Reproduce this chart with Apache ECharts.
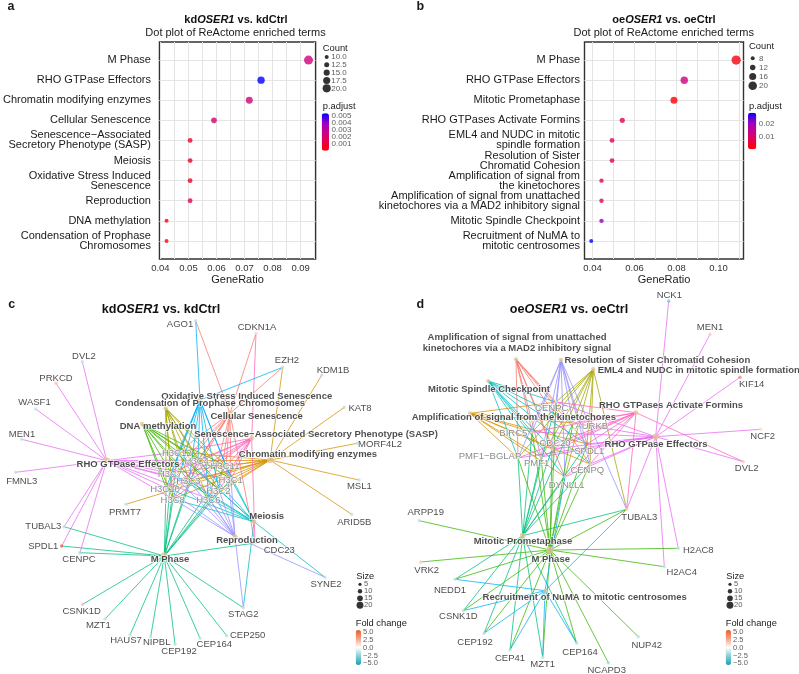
<!DOCTYPE html>
<html><head><meta charset="utf-8">
<script src="https://cdn.jsdelivr.net/npm/echarts@6/dist/echarts.min.js"></script>
<style>html,body{margin:0;padding:0;background:#fff}#chart{width:799px;height:674px}</style>
</head><body><div id="chart"></div>
<script>
const FONT = '"Liberation Sans", Arial, Helvetica, sans-serif';

// ---------------- Panel a : dot plot kdOSER1 vs kdCtrl ----------------
const termsA = ['M Phase', 'RHO GTPase Effectors', 'Chromatin modifying enzymes', 'Cellular Senescence',
  'Senescence\u2212Associated\nSecretory Phenotype (SASP)', 'Meiosis', 'Oxidative Stress Induced\nSenescence',
  'Reproduction', 'DNA methylation', 'Condensation of Prophase\nChromosomes'];
const ratioA = [0.0928, 0.0759, 0.0717, 0.0591, 0.0506, 0.0506, 0.0506, 0.0506, 0.0422, 0.0422];
const countA = [22, 18, 17, 14, 12, 12, 12, 12, 10, 10];
const padjA = [0.0024, 0.0053, 0.0023, 0.0021, 0.0007, 0.0007, 0.0007, 0.0013, 0.0002, 0.0002];
const ratioTicksA = [0.04, 0.05, 0.06, 0.07, 0.08, 0.09];
const ratioGridA = [0.04, 0.045, 0.05, 0.055, 0.06, 0.065, 0.07, 0.075, 0.08, 0.085, 0.09, 0.095];
const countKeysA = [10, 12.5, 15, 17.5, 20];
const padjTicksA = [0.001, 0.002, 0.003, 0.004, 0.005];

// ---------------- Panel b : dot plot oeOSER1 vs oeCtrl ----------------
const termsB = ['M Phase', 'RHO GTPase Effectors', 'Mitotic Prometaphase', 'RHO GTPases Activate Formins',
  'EML4 and NUDC in mitotic\nspindle formation', 'Resolution of Sister\nChromatid Cohesion',
  'Amplification of signal from\nthe kinetochores',
  'Amplification of signal from unattached\nkinetochores via a MAD2 inhibitory signal',
  'Mitotic Spindle Checkpoint', 'Recruitment of NuMA to\nmitotic centrosomes'];
const ratioB = [0.1084, 0.0837, 0.0788, 0.0542, 0.0493, 0.0493, 0.0443, 0.0443, 0.0443, 0.0394];
const countB = [22, 17, 16, 11, 10, 10, 9, 9, 9, 8];
const padjB = [0.0027, 0.0132, 0.0017, 0.0080, 0.0093, 0.0093, 0.0080, 0.0090, 0.0203, 0.0276];
const ratioTicksB = [0.04, 0.06, 0.08, 0.10];
const ratioGridB = [0.04, 0.05, 0.06, 0.07, 0.08, 0.09, 0.10, 0.11];
const countKeysB = [8, 12, 16, 20];
const padjTicksB = [0.01, 0.02];

// ---------------- Panel c : gene-concept network (kd) ----------------
const histC = ['H3C12', 'H3C4', 'H3C11', 'H3C7', 'H3C3', 'H3C1', 'H3C10', 'H3C2', 'H3C8', 'H3C6'];
const catsC = ['M Phase', 'RHO GTPase Effectors', 'Chromatin modifying enzymes', 'Cellular Senescence',
  'Senescence\u2212Associated Secretory Phenotype (SASP)', 'Meiosis', 'Oxidative Stress Induced Senescence',
  'Reproduction', 'DNA methylation', 'Condensation of Prophase Chromosomes'];
const catCountC = [22, 18, 17, 14, 12, 12, 12, 12, 10, 10];
const genesC = ['AGO1', 'CDKN1A', 'DVL2', 'PRKCD', 'EZH2', 'KDM1B', 'WASF1', 'KAT8', 'MEN1', 'MORF4L2', 'FMNL3',
  'MSL1', 'ARID5B', 'PRMT7', 'TUBAL3', 'SPDL1', 'CENPC', 'CDC23', 'SYNE2', 'STAG2', 'CSNK1D', 'MZT1', 'HAUS7',
  'NIPBL', 'CEP192', 'CEP164', 'CEP250'].concat(histC);
const fcC = [-1.5, 1.0, -1.5, 1.8, -1.5, -1.5, -1.5, -1.5, -1.5, -1.5, -1.5, -1.5, -1.5, -1.5, -1.5, 5.0, -2.0,
  -1.5, -1.5, -1.5, 1.8, -1.5, -1.5, -1.5, -1.5, -1.5, -1.5, -1, -1, -1, -1, -1, -1, -1, -1, -1, -1];
const membersC = [
  ['M Phase', histC.concat(['TUBAL3', 'SPDL1', 'CENPC', 'CSNK1D', 'MZT1', 'HAUS7', 'NIPBL', 'CEP192', 'CEP164', 'CEP250', 'STAG2', 'CDC23'])],
  ['RHO GTPase Effectors', histC.concat(['DVL2', 'PRKCD', 'WASF1', 'MEN1', 'FMNL3', 'TUBAL3', 'SPDL1', 'CENPC'])],
  ['Chromatin modifying enzymes', histC.concat(['EZH2', 'KDM1B', 'KAT8', 'MORF4L2', 'MSL1', 'ARID5B', 'PRMT7'])],
  ['Cellular Senescence', histC.concat(['CDKN1A', 'CDC23', 'AGO1', 'EZH2'])],
  ['Senescence\u2212Associated Secretory Phenotype (SASP)', histC.concat(['CDKN1A', 'CDC23'])],
  ['Meiosis', histC.concat(['STAG2', 'SYNE2'])],
  ['Oxidative Stress Induced Senescence', histC.concat(['AGO1', 'EZH2'])],
  ['Reproduction', histC.concat(['STAG2', 'SYNE2'])],
  ['DNA methylation', histC.slice()],
  ['Condensation of Prophase Chromosomes', histC.slice()]
];
const edgeColC = {
  'Cellular Senescence': '#F8766D', 'Chromatin modifying enzymes': '#D89000',
  'Condensation of Prophase Chromosomes': '#A3A500', 'DNA methylation': '#39B600', 'M Phase': '#00BF7D',
  'Meiosis': '#00BFC4', 'Oxidative Stress Induced Senescence': '#00B0F6', 'Reproduction': '#9590FF',
  'RHO GTPase Effectors': '#E76BF3', 'Senescence\u2212Associated Secretory Phenotype (SASP)': '#FF62BC'
};
// layout: node x, node y, label x, label y (reference pixel frame)
const layoutC = {
  'M Phase': [164.3, 556, 170, 559.3],
  'RHO GTPase Effectors': [106.7, 460.7, 128, 464],
  'Chromatin modifying enzymes': [270, 460, 308, 454],
  'Cellular Senescence': [230, 413.3, 256.7, 416.7],
  'Senescence\u2212Associated Secretory Phenotype (SASP)': [251.7, 438.3, 316, 434],
  'Meiosis': [254, 521.7, 266.7, 516.7],
  'Oxidative Stress Induced Senescence': [200, 400, 246.7, 396],
  'Reproduction': [235, 536.7, 247, 540],
  'DNA methylation': [142.3, 424, 158, 426.7],
  'Condensation of Prophase Chromosomes': [165.7, 408.3, 210, 403.7],
  AGO1: [195.7, 320.7, 180, 324.3], CDKN1A: [256, 333.3, 257, 327.3], DVL2: [82.3, 361.7, 84, 356],
  PRKCD: [56, 383.3, 56, 378.3], EZH2: [282.7, 367.3, 287, 360.7], KDM1B: [321.7, 375.3, 333, 370],
  WASF1: [35.7, 409, 34.5, 402.3], KAT8: [344.3, 407.3, 360, 408], MEN1: [21.7, 439.3, 22, 434],
  MORF4L2: [357.3, 443.3, 380, 444], FMNL3: [15.7, 472.3, 21.7, 481], MSL1: [359, 480, 359.3, 486.7],
  ARID5B: [351.7, 514.3, 354.3, 522.3], PRMT7: [126, 504.3, 125, 512.7], TUBAL3: [64, 526.7, 43.3, 526.7],
  SPDL1: [61.7, 546, 43.2, 546], CENPC: [80, 552.7, 79, 559.3], CDC23: [255, 543, 279.3, 550],
  SYNE2: [325, 577.3, 326, 584.3], STAG2: [243.3, 607.7, 243.3, 614.3], CSNK1D: [82.7, 604.3, 81.7, 611],
  MZT1: [105, 619, 98.3, 625], HAUS7: [130, 635, 126, 640], NIPBL: [150.7, 636.7, 156.7, 642.7],
  CEP192: [175, 644.3, 179, 651.7], CEP164: [200, 638.3, 214.3, 644.3], CEP250: [226.7, 635.7, 247.7, 635.7],
  H3C12: [178, 452, 176.7, 453.3], H3C4: [198, 460, 196.7, 461.7], H3C11: [226, 466, 225, 466.7],
  H3C7: [171, 473, 170, 474], H3C3: [189, 481, 188.3, 481.7], H3C1: [231, 479, 230.7, 480],
  H3C10: [166, 488, 165, 489], H3C2: [219, 490, 218.3, 491], H3C8: [173, 499, 172.7, 500.7],
  H3C6: [209, 499, 208.3, 500.7]
};

// ---------------- Panel d : gene-concept network (oe) ----------------
const kinetD = ['CENPC', 'AURKB', 'BIRC5', 'CDC20', 'SPDL1', 'PMF1\u2212BGLAP', 'PMF1', 'CENPQ', 'DYNLL1'];
const catsD = ['M Phase', 'RHO GTPase Effectors', 'Mitotic Prometaphase', 'RHO GTPases Activate Formins',
  'EML4 and NUDC in mitotic spindle formation', 'Resolution of Sister Chromatid Cohesion',
  'Amplification of signal from the kinetochores',
  'Amplification of signal from unattached\nkinetochores via a MAD2 inhibitory signal',
  'Mitotic Spindle Checkpoint', 'Recruitment of NuMA to mitotic centrosomes'];
const catCountD = [22, 17, 16, 11, 10, 10, 9, 9, 9, 8];
const genesD = ['NCK1', 'MEN1', 'KIF14', 'NCF2', 'DVL2'].concat(kinetD).concat(['TUBAL3', 'ARPP19', 'VRK2',
  'NEDD1', 'CSNK1D', 'CEP192', 'CEP41', 'MZT1', 'CEP164', 'NCAPD3', 'NUP42', 'H2AC8', 'H2AC4']);
const fcD = [-3.0, 1.5, 3.5, 1.0, 1.5, -1, 1.5, 1.5, 1.5, 4.5, -1, 1.5, 1.5, -1, 1.5, -1.5, 1.5, -1.5, -1.5,
  -1.5, -1.5, -1.5, -1.5, -2.0, -1.5, -1.5, -1.5];
const membersD = [
  ['Amplification of signal from the kinetochores', kinetD.slice()],
  ['Amplification of signal from unattached\nkinetochores via a MAD2 inhibitory signal', kinetD.slice()],
  ['Mitotic Spindle Checkpoint', kinetD.slice()],
  ['Resolution of Sister Chromatid Cohesion', kinetD.concat(['TUBAL3'])],
  ['EML4 and NUDC in mitotic spindle formation', kinetD.concat(['TUBAL3'])],
  ['RHO GTPases Activate Formins', kinetD.concat(['TUBAL3', 'DVL2'])],
  ['RHO GTPase Effectors', kinetD.concat(['TUBAL3', 'NCK1', 'MEN1', 'KIF14', 'NCF2', 'DVL2', 'H2AC8', 'H2AC4'])],
  ['Mitotic Prometaphase', kinetD.concat(['TUBAL3', 'NEDD1', 'CSNK1D', 'CEP192', 'CEP41', 'MZT1', 'CEP164'])],
  ['M Phase', kinetD.concat(['TUBAL3', 'ARPP19', 'VRK2', 'NEDD1', 'CSNK1D', 'CEP192', 'CEP41', 'MZT1', 'CEP164', 'NCAPD3', 'NUP42', 'H2AC8', 'H2AC4'])],
  ['Recruitment of NuMA to mitotic centrosomes', ['NEDD1', 'CSNK1D', 'CEP192', 'CEP41', 'MZT1', 'CEP164', 'TUBAL3', 'DYNLL1']]
];
const edgeColD = {
  'Amplification of signal from unattached\nkinetochores via a MAD2 inhibitory signal': '#F8766D',
  'Amplification of signal from the kinetochores': '#D89000',
  'EML4 and NUDC in mitotic spindle formation': '#A3A500', 'M Phase': '#39B600',
  'Mitotic Prometaphase': '#00BF7D', 'Mitotic Spindle Checkpoint': '#00BFC4',
  'Recruitment of NuMA to mitotic centrosomes': '#00B0F6', 'Resolution of Sister Chromatid Cohesion': '#9590FF',
  'RHO GTPase Effectors': '#E76BF3', 'RHO GTPases Activate Formins': '#FF62BC'
};
const layoutD = {
  'Amplification of signal from unattached\nkinetochores via a MAD2 inhibitory signal': [516, 359.3, 517, 342.8],
  'Resolution of Sister Chromatid Cohesion': [561, 360, 657.3, 360],
  'EML4 and NUDC in mitotic spindle formation': [593.3, 369.3, 698.7, 370.7],
  'Mitotic Spindle Checkpoint': [488.3, 381, 489, 389],
  'RHO GTPases Activate Formins': [636, 412.7, 671, 405],
  'Amplification of signal from the kinetochores': [470, 413.3, 513.8, 417.3],
  'RHO GTPase Effectors': [655.7, 436.7, 656, 444],
  'Mitotic Prometaphase': [522.7, 535.7, 523, 541.7],
  'M Phase': [550, 550, 550.7, 559.3],
  'Recruitment of NuMA to mitotic centrosomes': [545, 590.7, 584.7, 597.7],
  NCK1: [668.7, 301, 669.3, 295.5], MEN1: [710, 334.3, 710, 327.7], KIF14: [740, 377.3, 751.7, 384],
  NCF2: [760.7, 429.3, 762.7, 436.7], DVL2: [743.3, 461.7, 746.7, 468.3],
  CENPC: [556, 402, 551.7, 408.3], AURKB: [573, 423, 591.7, 426.7], BIRC5: [532, 432, 513.3, 433.3],
  CDC20: [552, 449, 555, 443.3], SPDL1: [587, 444, 589.3, 451], 'PMF1\u2212BGLAP': [518, 458, 490, 456.7],
  PMF1: [541, 457, 536.7, 463.3], CENPQ: [590, 464, 587.3, 470.7], DYNLL1: [565, 477, 566.7, 485],
  TUBAL3: [626.7, 509.3, 639.3, 517.3], ARPP19: [419.3, 520.7, 425.7, 512.3], VRK2: [420.7, 562, 426.7, 570],
  NEDD1: [455, 579.3, 450, 590], CSNK1D: [463.3, 610.7, 458.3, 616.7], CEP192: [484, 633.3, 475, 642.3],
  CEP41: [510, 650, 510, 658.3], MZT1: [542.7, 657.3, 542.7, 664], CEP164: [576.7, 643.3, 580, 652.7],
  NCAPD3: [608.3, 662.7, 606.7, 670], NUP42: [638.3, 636.7, 646.7, 645], H2AC8: [678.3, 548.3, 698.3, 550.7],
  H2AC4: [664.3, 566.7, 681.7, 572.7]
};
const sizeKeys = [5, 10, 15, 20];
const fcTicks = [5, 2.5, 0, -2.5, -5];

// ======================================================================
const RB = ['#ff0000', '#e6004f', '#c8008b', '#9400c8', '#0000ff'];
const FC_COLORS = ['#1aa1b4', '#84cdd4', '#ffffff', '#f5a384', '#ee5a2e'];
const grids = [], xAxes = [], yAxes = [], series = [], visualMaps = [], graphics = [];
function addGrid(g, xa, ya) {
  grids.push(g); const gi = grids.length - 1;
  xa.gridIndex = gi; ya.gridIndex = gi; xAxes.push(xa); yAxes.push(ya); return gi;
}
function hiddenX(min, max) { return { type: 'value', min: min, max: max, show: false }; }
function fmtNum(v) { return (v < 0 ? '\u2212' : '') + Math.abs(v).toFixed(1); }
// key labels of a legend: placed next to the legend's own scale through an invisible scatter
function keyLabels(gi, xPos, values, fmt, size, dx) {
  series.push({ type: 'scatter', xAxisIndex: gi, yAxisIndex: gi, clip: false, silent: true, symbolSize: 0, z: 6,
    data: values.map(v => [xPos, v]),
    label: { show: true, position: 'inside', offset: [dx, 0], align: 'left', verticalAlign: 'middle',
      formatter: p => fmt(p.value[1]), fontSize: size, color: '#333', fontFamily: FONT } });
}

function dotPlot(o) {
  const idx = o.terms.map((t, i) => i);
  const gi = addGrid({ left: o.left, top: 42, width: o.width, height: 217, show: true, borderColor: '#333', borderWidth: 1.4, backgroundColor: '#fff' },
    { type: 'value', min: o.xmin, max: o.xmax, name: 'GeneRatio', nameLocation: 'middle', nameGap: 15,
      nameTextStyle: { fontSize: 11, color: '#1a1a1a', fontFamily: FONT, verticalAlign: 'top' },
      axisLine: { show: false }, axisTick: { show: false, customValues: o.gridX },
      axisLabel: { customValues: o.ticksX, formatter: v => v.toFixed(2), fontSize: 9.5, color: '#333', margin: 4.5, fontFamily: FONT, showMinLabel: true, showMaxLabel: true },
      splitLine: { show: true, lineStyle: { color: '#e4e4e4', width: 1 } } },
    { type: 'value', min: -0.9, max: 9.9, inverse: true, axisLine: { show: false },
      axisTick: { show: false, customValues: idx },
      axisLabel: { customValues: idx, formatter: v => o.terms[Math.round(v)], fontSize: 11, lineHeight: 10, color: '#1a1a1a', margin: o.margin, fontFamily: FONT, align: 'right', showMinLabel: true, showMaxLabel: true },
      splitLine: { show: true, lineStyle: { color: '#e4e4e4', width: 1 } } });
  const si = series.length;
  series.push({ type: 'scatter', xAxisIndex: gi, yAxisIndex: gi, clip: false, z: 3, silent: true, symbol: 'circle',
    data: o.terms.map((t, i) => [o.ratio[i], i, o.count[i], o.padj[i]]) });
  // count legend
  const lg = addGrid({ left: o.cntX - 3, top: o.cntTop, width: 6, height: o.cntH },
    hiddenX(-1, 1),
    { type: 'value', min: o.cntKeys[0], max: o.cntKeys[o.cntKeys.length - 1], inverse: true, show: false });
  const li = series.length;
  series.push({ type: 'scatter', xAxisIndex: lg, yAxisIndex: lg, clip: false, silent: true, itemStyle: { color: '#000' },
    data: o.cntKeys.map(k => [0, k, k]) });
  keyLabels(lg, 0, o.cntKeys, o.cntFmt, 8, o.cntDx);
  visualMaps.push({ type: 'continuous', show: false, seriesIndex: [si, li], dimension: 2, min: o.sizeMin, max: o.sizeMax,
    inRange: { symbolSize: o.sizeRange } });
  // colour bar
  visualMaps.push({ type: 'continuous', show: true, seriesIndex: [si], dimension: 3, min: o.pmin, max: o.pmax,
    inRange: { color: RB }, calculable: false, orient: 'vertical', left: o.barX, top: o.barY,
    itemWidth: o.barW, itemHeight: o.barH, padding: 0, hoverLink: false });
  const cb = addGrid({ left: o.barX, top: o.barY, width: o.barW, height: o.barH },
    hiddenX(0, 1),
    { type: 'value', min: o.pmin, max: o.pmax, position: 'right', z: 10, axisLine: { show: false }, splitLine: { show: false },
      axisTick: { show: true, inside: true, length: 1.6, lineStyle: { color: '#fff', width: 1 }, customValues: o.pTicks },
      axisLabel: { show: false } });
  keyLabels(cb, 1, o.pTicks, o.pFmt, 8, 2.5);
  graphics.push(txt(o.barX + 1, o.cntTitleY, 'Count', 9.4), txt(o.barX + 1, o.pTitleY, 'p.adjust', 9.4));
}

function txt(x, y, text, size, weight, align) {
  return { type: 'text', x: x, y: y, silent: true,
    style: { text: text, fontFamily: FONT, fontSize: size, fontWeight: weight || 'normal', fill: '#1a1a1a',
      align: align || 'left', verticalAlign: 'middle' } };
}
function richTitle(x, y, pre, ital, post, size) {
  return { type: 'text', x: x, y: y, silent: true,
    style: { text: '{b|' + pre + '}{i|' + ital + '}{b|' + post + '}', align: 'center', verticalAlign: 'middle',
      rich: { b: { fontFamily: FONT, fontSize: size, fontWeight: 'bold', fill: '#111', color: '#111' },
              i: { fontFamily: FONT, fontSize: size, fontWeight: 'bold', fontStyle: 'italic', fill: '#111', color: '#111' } } } };
}

function network(o) {
  const L = o.layout;
  const gi = addGrid({ left: o.x0, top: 290, width: o.w, height: 384 }, hiddenX(o.x0, o.x0 + o.w),
    { type: 'value', min: 290, max: 674, inverse: true, show: false });
  const edges = [];
  o.members.forEach(m => m[1].forEach(g => {
    edges.push({ coords: [[L[m[0]][0], L[m[0]][1]], [L[g][0], L[g][1]]], lineStyle: { color: o.edgeCol[m[0]] } });
  }));
  series.push({ type: 'lines', coordinateSystem: 'cartesian2d', xAxisIndex: gi, yAxisIndex: gi, silent: true, z: 1,
    clip: false, lineStyle: { width: 0.9, opacity: 0.85 }, data: edges });
  const gsi = series.length;
  series.push({ type: 'scatter', xAxisIndex: gi, yAxisIndex: gi, clip: false, silent: true, z: 3, symbolSize: 3.4,
    data: o.genes.map((g, i) => ({ name: g, value: [L[g][0], L[g][1], o.fc[i]],
      label: { offset: [L[g][2] - L[g][0], L[g][3] - L[g][1]], color: o.inner.indexOf(g) >= 0 ? '#6e6e6e' : '#1a1a1a' } })),
    label: { show: true, position: 'inside', formatter: '{b}', fontSize: 9.5, fontFamily: FONT,
      textBorderColor: '#fff', textBorderWidth: 1.2 } });
  const csi = series.length;
  series.push({ type: 'scatter', xAxisIndex: gi, yAxisIndex: gi, clip: false, silent: true, z: 4,
    itemStyle: { color: '#E5C494' },
    data: o.cats.map((c, i) => ({ name: c, value: [L[c][0], L[c][1], o.catCount[i]],
      label: { offset: [L[c][2] - L[c][0], L[c][3] - L[c][1]] } })),
    label: { show: true, position: 'inside', formatter: '{b}', fontSize: 9.5, fontWeight: 'bold', color: '#1f1f1f',
      fontFamily: FONT, lineHeight: 11, textBorderColor: '#fff', textBorderWidth: 1.5 } });
  // size legend
  const sg = addGrid({ left: o.legX - 3, top: 584.3, width: 6, height: 21 }, hiddenX(-1, 1),
    { type: 'value', min: 5, max: 20, inverse: true, show: false });
  const ssi = series.length;
  series.push({ type: 'scatter', xAxisIndex: sg, yAxisIndex: sg, clip: false, silent: true, itemStyle: { color: '#000' },
    data: sizeKeys.map(k => [0, k, k]) });
  keyLabels(sg, 0, sizeKeys, v => String(v), 7.5, 4);
  visualMaps.push({ type: 'continuous', show: false, seriesIndex: [csi, ssi], dimension: 2, min: 5, max: 22,
    inRange: { symbolSize: [3.2, 7.4] } });
  // fold change colour bar
  visualMaps.push({ type: 'continuous', show: true, seriesIndex: [gsi], dimension: 2, min: -5.5, max: 5.5,
    inRange: { color: FC_COLORS }, calculable: false, orient: 'vertical', left: o.barX, top: 630,
    itemWidth: 5.3, itemHeight: 35, padding: 0, hoverLink: false });
  const cb = addGrid({ left: o.barX, top: 630, width: 5.3, height: 35 }, hiddenX(0, 1),
    { type: 'value', min: -5.5, max: 5.5, position: 'right', z: 10, axisLine: { show: false }, splitLine: { show: false },
      axisTick: { show: true, inside: true, length: 1.2, lineStyle: { color: '#fff', width: 0.8 }, customValues: fcTicks },
      axisLabel: { show: false } });
  keyLabels(cb, 1, fcTicks, fmtNum, 7.5, 2);
  graphics.push(txt(o.barX + 0.5, 576, 'Size', 9.3), txt(o.barX, 623.5, 'Fold change', 9.3));
}

dotPlot({ terms: termsA, ratio: ratioA, count: countA, padj: padjA, left: 156, width: 159.6, xmin: 0.03967, xmax: 0.09533,
  ticksX: ratioTicksA, gridX: ratioGridA, margin: 8.5,
  cntKeys: countKeysA, cntFmt: v => v.toFixed(1), cntX: 326.7, cntTop: 57, cntH: 31.3, cntDx: 4.5,
  sizeMin: 10, sizeMax: 22, sizeRange: [4, 9],
  pmin: 0.0001, pmax: 0.0053, pTicks: padjTicksA, pFmt: v => v.toFixed(3),
  barX: 321.7, barY: 113.3, barW: 7.3, barH: 37.4, cntTitleY: 48.3, pTitleY: 106.7 });
dotPlot({ terms: termsB, ratio: ratioB, count: countB, padj: padjB, left: 584.5, width: 159, xmin: 0.0362, xmax: 0.1119,
  ticksX: ratioTicksB, gridX: ratioGridB, margin: 4.5,
  cntKeys: countKeysB, cntFmt: v => String(v), cntX: 752.7, cntTop: 58.3, cntH: 27.4, cntDx: 6.3,
  sizeMin: 8, sizeMax: 22, sizeRange: [4, 9.3],
  pmin: 0.0014, pmax: 0.0276, pTicks: padjTicksB, pFmt: v => v.toFixed(2),
  barX: 748, barY: 112.7, barW: 8.3, barH: 36.6, cntTitleY: 46.7, pTitleY: 106.7 });

network({ x0: 0, w: 400, layout: layoutC, members: membersC, edgeCol: edgeColC, genes: genesC, fc: fcC, inner: histC,
  cats: catsC, catCount: catCountC, legX: 360, barX: 355.7 });
network({ x0: 400, w: 399, layout: layoutD, members: membersD, edgeCol: edgeColD, genes: genesD, fc: fcD, inner: kinetD,
  cats: catsD, catCount: catCountD, legX: 730, barX: 725.7 });

// panel letters and titles
graphics.push(txt(7.5, 7, 'a', 12.5, 'bold'), txt(416.5, 7, 'b', 12.5, 'bold'),
  txt(8.3, 305, 'c', 12.5, 'bold'), txt(416.5, 305, 'd', 12.5, 'bold'));
graphics.push(richTitle(236, 20, 'kd', 'OSER1', ' vs. kdCtrl', 11), txt(235.5, 33.3, 'Dot plot of ReActome enriched terms', 11, 'normal', 'center'));
graphics.push(richTitle(664, 20, 'oe', 'OSER1', ' vs. oeCtrl', 11), txt(663.7, 33.3, 'Dot plot of ReActome enriched terms', 11, 'normal', 'center'));
graphics.push(richTitle(161, 310, 'kd', 'OSER1', ' vs. kdCtrl', 12.6), richTitle(569, 310, 'oe', 'OSER1', ' vs. oeCtrl', 12.6));

const chart = echarts.init(document.getElementById('chart'), null, { renderer: 'canvas' });
chart.setOption({
  animation: false, backgroundColor: '#fff', textStyle: { fontFamily: FONT },
  grid: grids, xAxis: xAxes, yAxis: yAxes, series: series, visualMap: visualMaps, graphic: graphics
});
</script></body></html>
